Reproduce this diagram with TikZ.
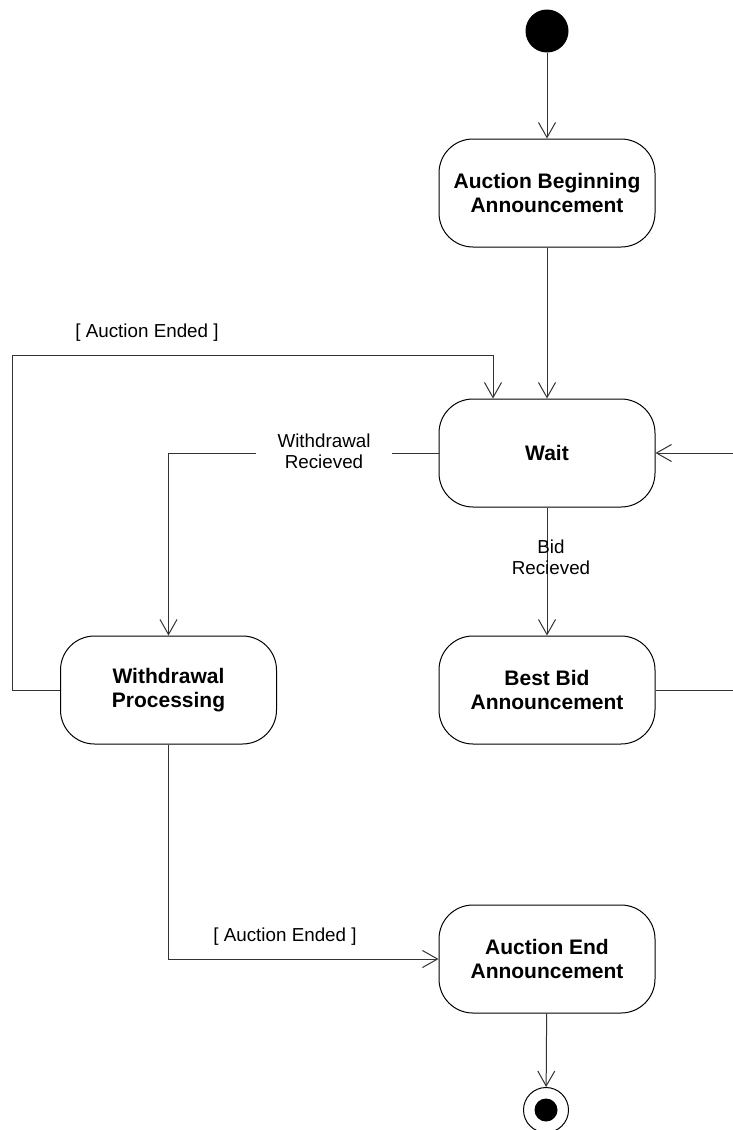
\documentclass[tikz,border=0pt]{standalone}
\usepackage{fontspec}
\setmainfont{Liberation Sans}
\usetikzlibrary{arrows.meta}
\begin{document}
\begin{tikzpicture}[x=1pt,y=-1pt,
    every node/.style={font=\fontsize{18.8}{21}\selectfont, align=center},
    activity/.style={draw, line width=1pt, rectangle, rounded corners=34pt, minimum width=216pt, minimum height=108pt, font=\fontsize{21}{24}\selectfont\bfseries},
    trans/.style={line width=1pt, draw=black!80, -{Straight Barb[length=15pt,width=17pt]}},
    guard/.style={inner sep=0pt}]
                    \useasboundingbox (0,0) rectangle (732,1130);
                    \node[circle, fill=black, minimum size=43pt, inner sep=0pt] (start) at (547,31) {};
                    \node[activity] (begin) at (547,193) {Auction Beginning\\Announcement};
                    \node[activity] (wait) at (547,453) {Wait};
                    \node[activity] (withdraw) at (168.5,690) {Withdrawal\\Processing};
                    \node[activity] (bestbid) at (547,690) {Best Bid\\Announcement};
                    \node[activity] (endann) at (547,959) {Auction End\\Announcement};
                    \node[circle, draw, line width=1pt, minimum size=45pt, inner sep=0pt] (stop) at (546,1110) {};
                    \fill[black] (stop.center) circle (11.5pt);
                    \coordinate (loopl) at (12,355);
                    \coordinate (loopr) at (737,690);
                    \draw[trans] (start) -- (begin);
                    \draw[trans] (begin) -- (wait);
                    \draw[trans] (wait) -- (bestbid);
                    \draw[trans] (bestbid.east) -- (loopr) |- (wait.east);
                    \draw[trans] (wait.west) -| (withdraw.north);
                    \draw[trans] (withdraw.west) -| (loopl) -| ([xshift=-54pt]wait.north);
                    \draw[trans] (withdraw.south) |- (endann.west);
                    \draw[trans] (endann) -- (stop);
                    \node[guard, fill=white, inner xsep=22pt, inner ysep=4pt] (wdlabel) at (324,451) {Withdrawal\\Recieved};
                    \node[guard] (bidlabel) at (551,557) {Bid\\Recieved};
                    \node[guard] (endlabel1) at (147,333) {[ Auction Ended ]};
                    \node[guard] (endlabel2) at (285,937) {[ Auction Ended ]};
                \end{tikzpicture}
\end{document}
